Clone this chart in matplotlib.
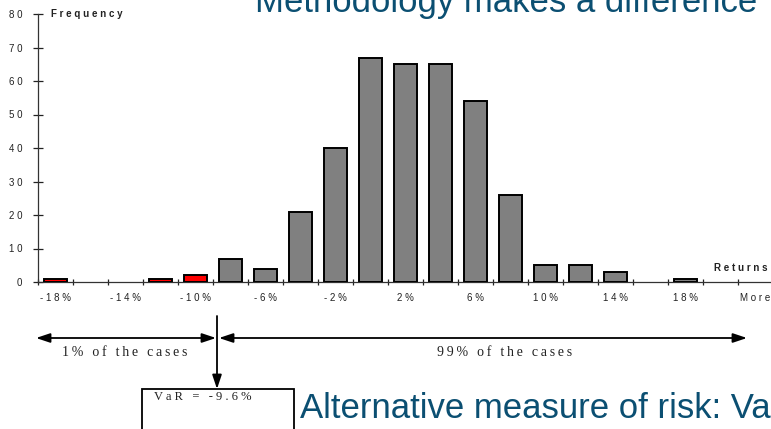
import numpy as np
import matplotlib
matplotlib.use("Agg")
import matplotlib.pyplot as plt
from matplotlib.patches import FancyArrowPatch, Rectangle

# ---- data ----
categories = ['-18%', '-16%', '-14%', '-12%', '-10%', '-8%', '-6%', '-4%', '-2%', '0%',
              '2%', '4%', '6%', '8%', '10%', '12%', '14%', '16%', '18%', '20%', 'More']
frequency = [1, 0, 0, 1, 2, 7, 4, 21, 40, 67, 65, 65, 54, 26, 5, 5, 3, 0, 1, 0, 0]
tail_flag = [1, 0, 0, 1, 1, 0, 0, 0, 0, 0, 0, 0, 0, 0, 0, 0, 0, 0, 0, 0, 0]
yticks = [0, 10, 20, 30, 40, 50, 60, 70, 80]
title = "Methodology makes a difference"
subtitle = "Alternative measure of risk: VaR"
var_label = "VaR = -9.6%"
left_label = "1% of the cases"
right_label = "99% of the cases"

W, H = 771, 429
BLUE = '#0b4f72'
SANS = 'Liberation Sans'
SERIF = 'Liberation Serif'


def spaced(s, gap=' ', word_gap='   '):
    return word_gap.join(gap.join(w) for w in s.split(' '))


fig = plt.figure(figsize=(W / 100, H / 100), dpi=100)
fig.patch.set_facecolor('white')
ax = fig.add_axes([37.7 / W, (H - 282) / H, 735 / W, 268 / H])

x = np.arange(len(categories))
colors = ['#ff0000' if f else '#808080' for f in tail_flag]
lws = [1.4 if v > 0 else 0 for v in frequency]
ax.bar(x, frequency, width=0.65, color=colors, edgecolor='black', linewidth=lws, zorder=3)

ax.set_xlim(-0.5, len(categories) - 0.5)
ax.set_ylim(0, 80)
for s in ['top', 'right']:
    ax.spines[s].set_visible(False)
for s in ['left', 'bottom']:
    ax.spines[s].set_color('#333333')
    ax.spines[s].set_linewidth(0.9)

ax.set_yticks(yticks)
ax.set_yticklabels([spaced(str(v)) for v in yticks], fontsize=7, family=SANS, color='#222222')
ax.tick_params(axis='y', direction='inout', length=7, width=0.9, color='#222222', pad=7.5)

major_pos = x[::2]
ax.set_xticks(major_pos)
ax.set_xticklabels([spaced(categories[i]) for i in major_pos], fontsize=7, family=SANS,
                   color='#222222')
ax.set_xticks(np.arange(len(categories) + 1) - 0.5, minor=True)
ax.tick_params(axis='x', which='major', length=0, pad=8)
ax.tick_params(axis='x', which='minor', direction='inout', length=5, width=0.9, color='#222222')

fig.text(51 / W, (H - 14) / H, spaced('Frequency'), fontsize=7, family=SANS,
         fontweight='bold', color='#222222', va='center', ha='left')
fig.text(768 / W, (H - 268) / H, spaced('Returns'), fontsize=7, family=SANS,
         fontweight='bold', color='#222222', va='center', ha='right')

# titles (clipped by the figure edge like the reference)
fig.text(255 / W, (H - 12) / H, title, fontsize=25, family=SANS, color=BLUE,
         ha='left', va='baseline')
fig.text(300 / W, (H - 418) / H, subtitle, fontsize=25, family=SANS, color=BLUE,
         ha='left', va='baseline')


def fig_arrow(x0, y0, x1, y1, style):
    a = FancyArrowPatch((x0 / W, (H - y0) / H), (x1 / W, (H - y1) / H),
                        transform=fig.transFigure, arrowstyle=style,
                        mutation_scale=14, color='black', linewidth=1.3,
                        shrinkA=0, shrinkB=0)
    fig.patches.append(a)


hs = "<|-|>,head_length=0.6,head_width=0.2"
fig_arrow(36, 338, 216, 338, hs)
fig_arrow(219, 338, 747, 338, hs)
fig_arrow(217, 316, 217, 389, "-|>,head_length=0.6,head_width=0.2")

TS = '\u2009'
fig.text(125 / W, (H - 352) / H, spaced(left_label, gap=TS, word_gap=TS + ' ' + TS),
         fontsize=10, family=[SERIF, 'DejaVu Serif'],
         color='#222222', ha='center', va='center')
fig.text(505 / W, (H - 352) / H, spaced(right_label, gap=TS, word_gap=TS + ' ' + TS),
         fontsize=10, family=[SERIF, 'DejaVu Serif'],
         color='#222222', ha='center', va='center')

box = Rectangle((142 / W, -0.05), (294 - 142) / W, (H - 389) / H + 0.05,
                transform=fig.transFigure, facecolor='white', edgecolor='black',
                linewidth=1.3)
fig.patches.append(box)
fig.text(154 / W, (H - 397) / H, spaced(var_label, word_gap='   '), fontsize=9, family=SERIF,
         color='#222222', ha='left', va='center')

fig.savefig('out.png', dpi=100)
